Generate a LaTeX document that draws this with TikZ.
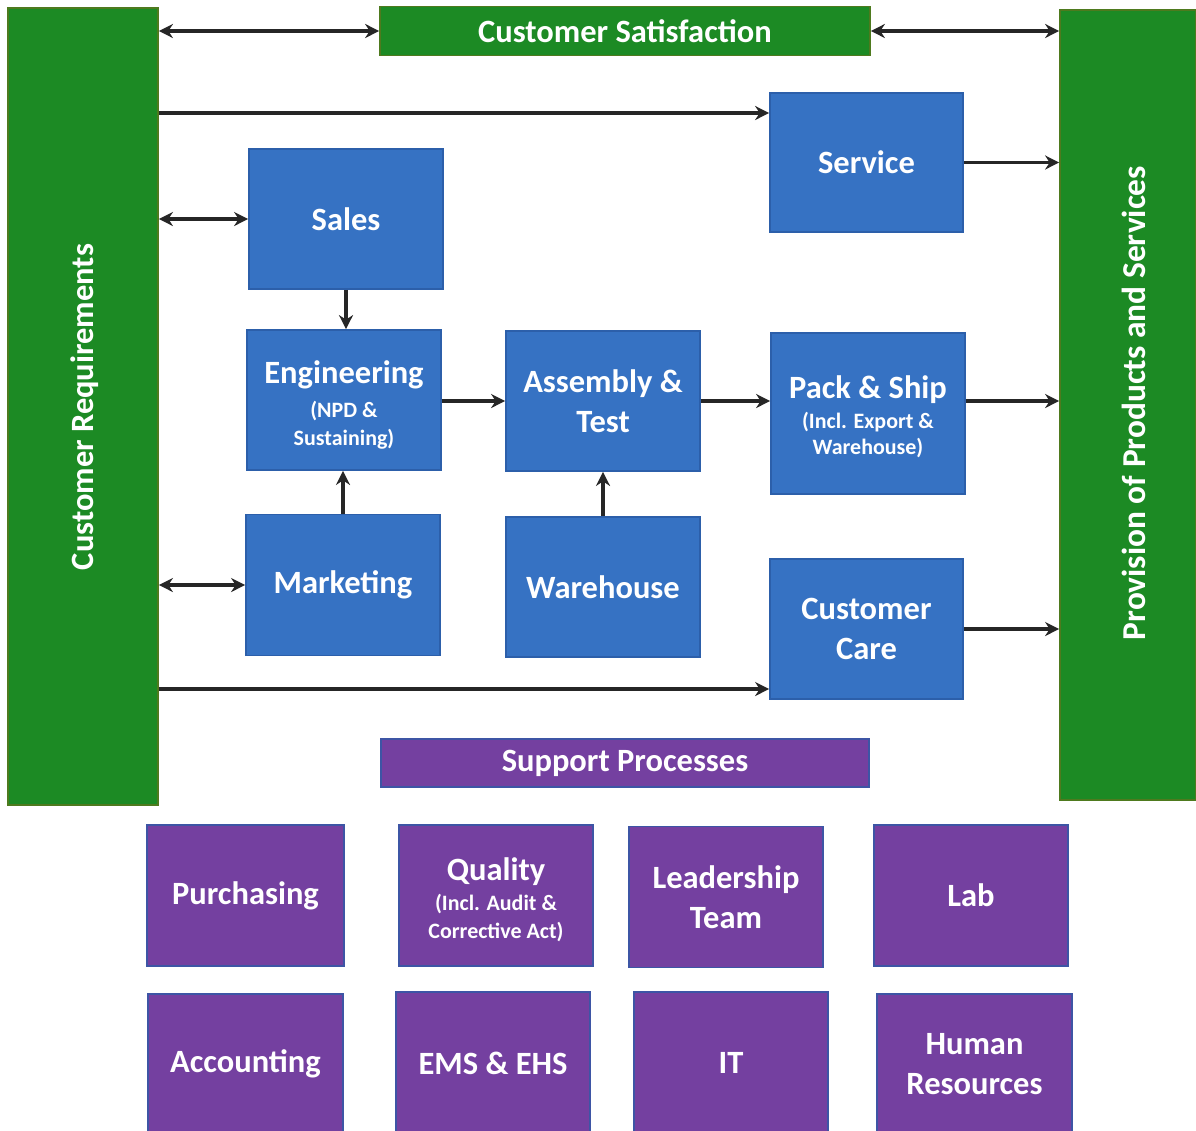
\documentclass[tikz,border=0pt]{standalone}
\usepackage{fontspec}
\setmainfont{Carlito}
\usetikzlibrary{arrows.meta}
\definecolor{gr}{HTML}{1C8A24}
\definecolor{grb}{HTML}{4E7A1E}
\definecolor{bl}{HTML}{3672C3}
\definecolor{blb}{HTML}{2C5FAA}
\definecolor{pu}{HTML}{7440A0}
\definecolor{pub}{HTML}{3D55A5}
\newcommand\subt[1]{{\fontsize{12.5}{15}\selectfont #1}}
\tikzset{
  x=0.02cm, y=-0.02cm,
  basefont/.style={text=white, align=center, inner sep=0pt,
    font=\bfseries\fontsize{18.5}{23}\selectfont},
  basebox/.style={basefont, line width=1pt},
  grbox/.style={basebox, draw=grb, fill=gr},
  blbox/.style={basebox, draw=blb, fill=bl, minimum width=3.88cm, minimum height=2.8cm},
  pubox/.style={basebox, draw=pub, fill=pu, minimum width=3.88cm, minimum height=2.82cm},
  arr/.style={line width=2.2pt, draw=black!85, -{Stealth[length=8pt,width=8pt]}},
  darr/.style={line width=2.2pt, draw=black!85, {Stealth[length=8pt,width=8pt]}-{Stealth[length=8pt,width=8pt]}},
}
\begin{document}
\begin{tikzpicture}
\useasboundingbox[fill=white] (0,0) rectangle (1196,1130);
% green frame elements
\node[grbox, minimum width=3cm, minimum height=15.94cm] (lb) at (83,406.5) {};
\node[basefont, rotate=90] (lbt) at (85,407) {Customer Requirements};
\node[grbox, minimum width=2.72cm, minimum height=15.8cm] (rb) at (1128,405) {};
\node[basefont, rotate=90, font=\bfseries\fontsize{19}{23}\selectfont] (rbt) at (1134,403) {Provision of Products and Services};
\node[grbox, minimum width=9.8cm, minimum height=0.98cm] (cs) at (625,31) {Customer Satisfaction};
% blue process boxes
\node[blbox, minimum width=3.86cm, minimum height=2.78cm] (sv) at (866.5,162.5) {Service};
\node[blbox] (sa) at (346,219) {Sales};
\node[blbox] (en) at (344,400) {};
\node[basefont] (ent) at (344,405) {Engineering\\[-4pt]\subt{(NPD \&}\\[-7pt]\subt{Sustaining)}};
\node[blbox] (at) at (603,401) {Assembly \&\\Test};
\node[blbox, minimum height=3.22cm] (ps) at (868,413.5) {};
\node[basefont] (pst) at (868,417) {Pack \& Ship\\[-6pt]\subt{(Incl. Export \&}\\[-8pt]\subt{Warehouse)}};
\node[blbox, minimum height=2.82cm] (mk) at (343,585) {Marketing};
\node[blbox] (wh) at (603,587) {Warehouse};
\node[blbox, minimum width=3.86cm] (cc) at (866.5,629) {Customer\\Care};
% support processes
\node[basebox, draw=pub, fill=pu, minimum width=9.76cm, minimum height=0.96cm] (sp) at (625,763) {Support Processes};
\node[pubox, minimum width=3.94cm] (pur) at (245.5,895.5) {Purchasing};
\node[pubox] (qu) at (496,895.5) {};
\node[basefont] (qut) at (496,900) {Quality\\[-6pt]\subt{(Incl. Audit \&}\\[-7pt]\subt{Corrective Act)}};
\node[pubox] (lt) at (726,897) {Leadership\\Team};
\node[pubox] (lab) at (971,895.5) {Lab};
\node[pubox, minimum width=3.9cm, minimum height=2.8cm] (acc) at (245.5,1064) {Accounting};
\node[pubox, minimum height=2.84cm] (ems) at (493,1063) {EMS \& EHS};
\node[pubox, minimum height=2.84cm] (it) at (731,1063) {IT};
\node[pubox, minimum width=3.9cm, minimum height=2.8cm] (hr) at (974.5,1064) {Human\\Resources};
% helper coordinates
\coordinate (ya) at (0,113);
\coordinate (yb) at (0,689);
% connectors
\draw[darr] (lb.east |- cs.west) -- (cs.west);
\draw[darr] (cs.east) -- (rb.west |- cs.east);
\draw[arr] (lb.east |- ya) -- (sv.west |- ya);
\draw[arr] (sv.east) -- (rb.west |- sv.east);
\draw[darr] (lb.east |- sa.west) -- (sa.west);
\draw[arr] (sa.south) -- (sa.south |- en.north);
\draw[arr] (en.east |- at.west) -- (at.west);
\draw[arr] (at.east) -- (ps.west |- at.east);
\draw[arr] (ps.east |- at.east) -- (rb.west |- at.east);
\draw[arr] (mk.north) -- (mk.north |- en.south);
\draw[arr] (wh.north) -- (at.south);
\draw[darr] (lb.east |- mk.west) -- (mk.west);
\draw[arr] (cc.east) -- (rb.west |- cc.east);
\draw[arr] (lb.east |- yb) -- (cc.west |- yb);
\end{tikzpicture}
\end{document}
